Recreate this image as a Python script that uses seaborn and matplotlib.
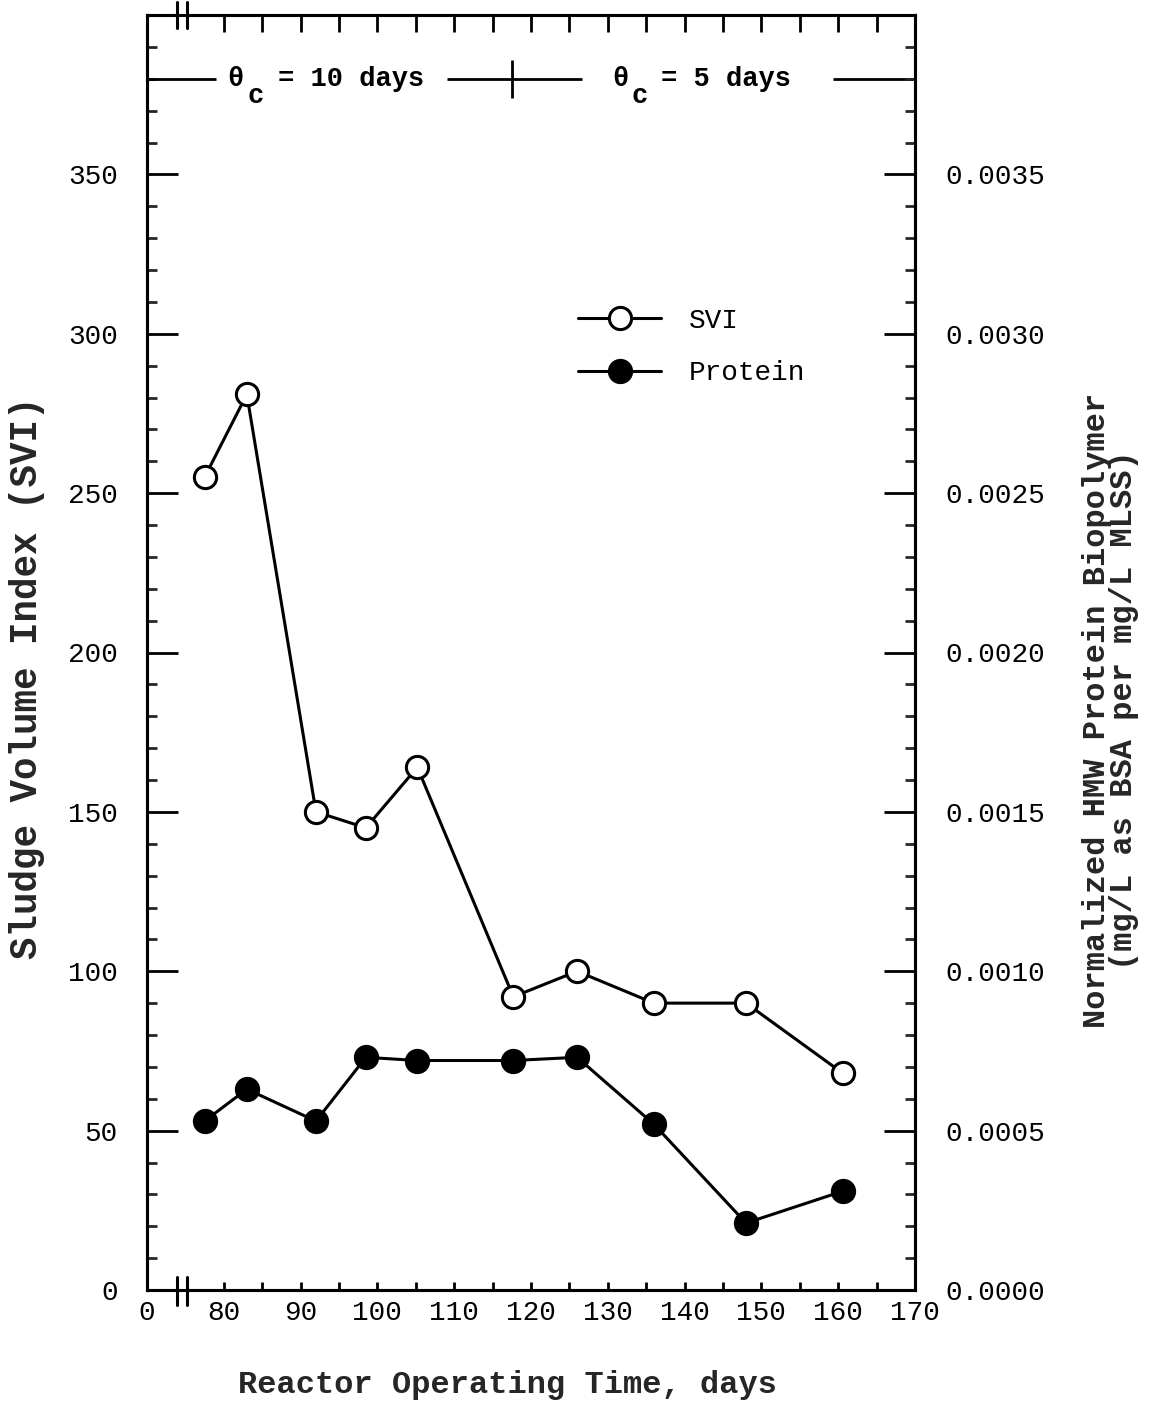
import matplotlib
matplotlib.use("Agg")
import matplotlib.pyplot as plt
import matplotlib.transforms as mtransforms
from matplotlib.lines import Line2D
import numpy as np
import pandas as pd
import seaborn as sns

# Reactor operating time (days) and measured series
days = [77.5, 83.0, 92.0, 98.5, 105.2, 117.7, 126.0, 136.0, 148.0, 160.6]
svi = [255, 281, 150, 145, 164, 92, 100, 90, 90, 68]
protein = [0.00053, 0.00063, 0.00053, 0.00073, 0.00072,
           0.00072, 0.00073, 0.00052, 0.00021, 0.00031]

x_tick_values = [70, 80, 90, 100, 110, 120, 130, 140, 150, 160, 170]
x_tick_labels = ["0", "80", "90", "100", "110", "120", "130", "140", "150", "160", "170"]
svi_ticks = [0, 50, 100, 150, 200, 250, 300, 350]
protein_ticks = [0.0, 0.0005, 0.0010, 0.0015, 0.0020, 0.0025, 0.0030, 0.0035]
protein_tick_labels = ["0.0000", "0.0005", "0.0010", "0.0015", "0.0020",
                       "0.0025", "0.0030", "0.0035"]

srt_switch_day = 117.5
srt_labels = ["10 days", "5 days"]

df = pd.DataFrame({"day": days, "SVI": svi, "Protein": protein})

sns.set_theme(style="ticks")
plt.rcParams["font.family"] = ["Liberation Mono", "DejaVu Sans Mono"]
plt.rcParams["axes.linewidth"] = 2.2
plt.rcParams["text.color"] = "black"

W, H = 1162, 1402
fig = plt.figure(figsize=(W / 100, H / 100), dpi=100)
fig.subplots_adjust(left=147 / W, right=915 / W, top=1 - 15 / H, bottom=1 - 1290 / H)
ax = fig.add_subplot(111)
ax2 = ax.twinx()

ink = "black"
ms = 16
lw = 2.2

sns.lineplot(data=df, x="day", y="SVI", ax=ax, sort=False, color=ink, lw=lw,
             marker="o", markersize=ms, markerfacecolor="white",
             markeredgecolor=ink, markeredgewidth=2.2, label="SVI", legend=False)
sns.lineplot(data=df, x="day", y="Protein", ax=ax2, sort=False, color=ink, lw=lw,
             marker="o", markersize=ms, markerfacecolor=ink,
             markeredgecolor=ink, markeredgewidth=2.2, label="Protein", legend=False)

ax.set_xlim(70, 170)
ax.set_ylim(0, 400)
ax2.set_ylim(0, 0.0040)

for a in (ax, ax2):
    for s in a.spines.values():
        s.set_visible(True)
        s.set_color(ink)
        s.set_linewidth(2.2)

# x axis: labelled every 10 days, ticks every 5 days, on top and bottom
ax.set_xticks(x_tick_values)
ax.set_xticklabels(x_tick_labels)
ax.set_xticks(np.arange(85, 170, 10), minor=True)
ax.tick_params(axis="x", which="both", direction="in", length=6, width=2,
               top=True, bottom=True, labelsize=20, pad=7, colors=ink)

# left axis
ax.set_yticks(svi_ticks)
ax.set_yticks(np.arange(10, 400, 10), minor=True)
ax.tick_params(axis="y", which="major", direction="in", length=22, width=2,
               labelsize=20, pad=21, left=True, right=False, colors=ink)
ax.tick_params(axis="y", which="minor", direction="in", length=7.5, width=2,
               left=True, right=False)

# right axis
ax2.set_yticks(protein_ticks)
ax2.set_yticklabels(protein_tick_labels)
ax2.set_yticks(np.arange(0.0001, 0.0040, 0.0001), minor=True)
ax2.tick_params(axis="y", which="major", direction="in", length=22, width=2,
                labelsize=20, pad=22, right=True, left=False, colors=ink)
ax2.tick_params(axis="y", which="minor", direction="in", length=7.5, width=2,
                right=True, left=False)

ax.set_xlabel("Reactor Operating Time, days", fontsize=23, fontweight="bold")
ax.xaxis.set_label_coords(0.469, -0.063)
ax.set_ylabel("Sludge Volume Index (SVI)", fontsize=27, fontweight="bold")
ax.yaxis.set_label_coords(-0.133, 0.48)
ax2.set_ylabel("Normalized HMW Protein Biopolymer\n(mg/L as BSA per mg/L MLSS)",
               fontsize=23, fontweight="bold", linespacing=0.9)
ax2.yaxis.set_label_coords(1.217, 0.455)

# top ticks are drawn longer than the bottom ones
for t in ax.xaxis.get_major_ticks() + ax.xaxis.get_minor_ticks():
    t.tick2line.set_markersize(12)

# axis break marks near the origin (top and bottom)
brk = mtransforms.blended_transform_factory(ax.transData, ax.transAxes)
for y0, y1, ymid in [(-0.012, 0.010, 0.0), (0.990, 1.010, 1.0)]:
    ax.plot([73.9, 75.2], [ymid, ymid], transform=brk, color="white", lw=4,
            clip_on=False, zorder=5, solid_capstyle="butt")
    for xb in (73.9, 75.2):
        ax.plot([xb, xb], [y0, y1], transform=brk, color=ink, lw=2.2,
                clip_on=False, zorder=6)

# solids retention time annotation
theta_y = 380
ax.hlines(theta_y, 70, 79.0, color=ink, lw=2)
ax.hlines(theta_y, 109.0, 126.6, color=ink, lw=2)
ax.hlines(theta_y, 159.3, 170, color=ink, lw=2)
ax.vlines(srt_switch_day, theta_y - 6, theta_y + 6, color=ink, lw=2)
tfs = 19.5
ax.text(81.5, theta_y, "θ", fontsize=tfs, fontweight="bold", ha="center", va="center")
ax.text(84.1, theta_y - 5.5, "c", fontsize=tfs, fontweight="bold", ha="center", va="center")
ax.text(87.0, theta_y, "= " + srt_labels[0], fontsize=tfs, fontweight="bold",
        ha="left", va="center")
ax.text(131.6, theta_y, "θ", fontsize=tfs, fontweight="bold", ha="center", va="center")
ax.text(134.2, theta_y - 5.5, "c", fontsize=tfs, fontweight="bold", ha="center", va="center")
ax.text(136.9, theta_y, "= " + srt_labels[1], fontsize=tfs, fontweight="bold",
        ha="left", va="center")

# legend
handles = [
    Line2D([], [], color=ink, lw=lw, marker="o", markersize=ms,
           markerfacecolor="white", markeredgecolor=ink, markeredgewidth=2.2),
    Line2D([], [], color=ink, lw=lw, marker="o", markersize=ms,
           markerfacecolor=ink, markeredgecolor=ink, markeredgewidth=2.2),
]
leg = ax2.legend(handles, ["SVI", "Protein"], loc="upper left",
                 bbox_to_anchor=(578 / W, 1 - 308 / H), bbox_transform=fig.transFigure,
                 frameon=False, fontsize=20, handlelength=3.0, handletextpad=1.0,
                 labelspacing=0.95, borderpad=0, borderaxespad=0)

fig.savefig("out.png", dpi=100)
